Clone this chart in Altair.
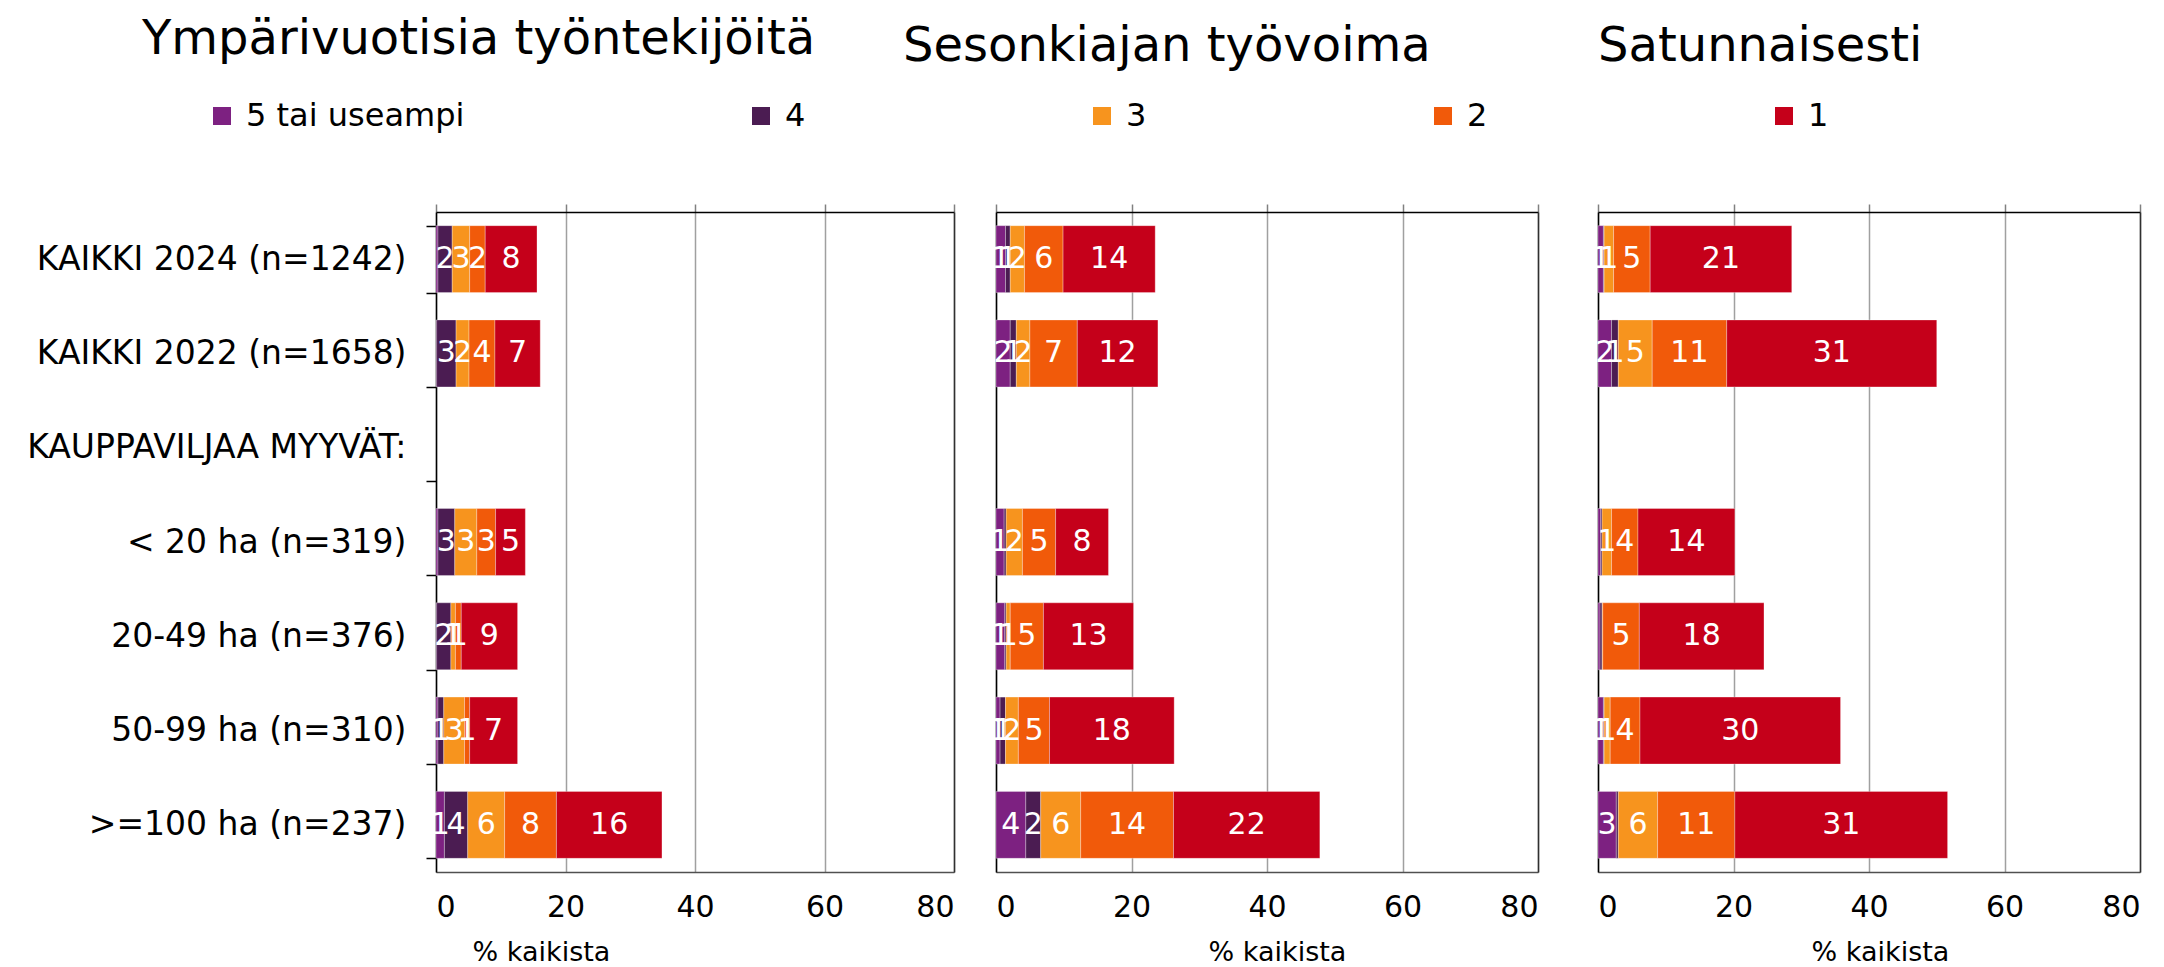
import altair as alt
import pandas as pd

categories = ["KAIKKI 2024 (n=1242)", "KAIKKI 2022 (n=1658)", "KAUPPAVILJAA MYYVÄT:",
              "< 20 ha (n=319)", "20-49 ha (n=376)", "50-99 ha (n=310)", ">=100 ha (n=237)"]
rows = ["KAIKKI 2024 (n=1242)", "KAIKKI 2022 (n=1658)", "< 20 ha (n=319)",
        "20-49 ha (n=376)", "50-99 ha (n=310)", ">=100 ha (n=237)"]
levels = ["5 tai useampi", "4", "3", "2", "1"]
colors = ["#7d2181", "#4b1c52", "#f7941e", "#f15a0a", "#c5001a"]
panel_titles = ["Ympärivuotisia työntekijöitä", "Sesonkiajan työvoima", "Satunnaisesti"]
x_ticks = [0, 20, 40, 60, 80]

# values (% kaikista) per level, in the order of `rows`
ymparivuotisia = {
    "5 tai useampi": [0.3, 0.1, 0.3, 0.1, 0.3, 1.3],
    "4": [2.2, 3.0, 2.6, 2.2, 0.9, 3.6],
    "3": [2.7, 2.0, 3.4, 0.7, 3.2, 5.7],
    "2": [2.4, 4.0, 2.9, 0.9, 0.8, 8.0],
    "1": [8.0, 7.0, 4.6, 8.7, 7.4, 16.3],
}
sesonki = {
    "5 tai useampi": [1.4, 2.1, 1.2, 1.3, 0.6, 4.4],
    "4": [0.7, 0.9, 0.3, 0.2, 0.8, 2.2],
    "3": [2.1, 2.0, 2.4, 0.6, 1.9, 5.9],
    "2": [5.7, 7.0, 4.9, 4.9, 4.6, 13.7],
    "1": [13.6, 11.9, 7.8, 13.3, 18.4, 21.6],
}
satunnaisesti = {
    "5 tai useampi": [0.8, 2.0, 0.4, 0.3, 0.8, 2.7],
    "4": [0.1, 1.0, 0.2, 0.3, 0.1, 0.3],
    "3": [1.4, 5.0, 1.4, 0.1, 0.9, 5.8],
    "2": [5.4, 11.0, 3.9, 5.4, 4.4, 11.4],
    "1": [20.9, 31.0, 14.3, 18.4, 29.6, 31.4],
}

FONT = "DejaVu Sans"


def make_df(values):
    recs = []
    for li, lev in enumerate(levels):
        for ri, cat in enumerate(rows):
            v = values[lev][ri]
            r = int(v + 0.5)
            recs.append({"category": cat, "level": lev, "order": li, "value": v,
                         "label": str(r) if r > 0 else ""})
    return pd.DataFrame(recs)


def panel(values, title, width, lead, dx, title_x, first):
    df = make_df(values)
    xscale = alt.Scale(domain=[0, 80], nice=False, zero=True, range=[lead, width])
    yscale = alt.Scale(domain=categories, paddingInner=0.29, paddingOuter=0.145)
    if first:
        yaxis = alt.Axis(title=None, labelFont=FONT, labelFontSize=33, labelColor="black",
                         labelPadding=20, tickBand="extent", ticks=True, tickSize=10,
                         tickColor="black", tickWidth=1.5, domainColor="black",
                         domainWidth=1.5, grid=False, labelLimit=600)
    else:
        yaxis = alt.Axis(title=None, labels=False, ticks=False, domainColor="black",
                         domainWidth=1.5, grid=False, minExtent=0, offset=-lead)
    legend = alt.Legend(title=None, orient="none", legendX=-230, legendY=-112,
                        direction="horizontal", columns=5, gridAlign="each",
                        columnPadding=280, symbolType="square", symbolSize=324,
                        symbolStrokeWidth=0, labelFont=FONT, labelFontSize=32,
                        labelColor="black", labelOffset=8, labelLimit=500) if first else None
    base = alt.Chart(df).transform_stack(
        stack="value", groupby=["category"],
        sort=[alt.SortField("order", order="ascending")], as_=["x0", "x1"]
    ).transform_calculate(xm="(datum.x0 + datum.x1) / 2")
    bars = base.mark_bar(stroke="white", strokeWidth=0.6, strokeOpacity=0.5).encode(
        x=alt.X("x0:Q", scale=xscale,
                axis=alt.Axis(title="% kaikista", titleFont=FONT, titleFontSize=27,
                              titleFontWeight="normal", titleColor="black", titlePadding=17,
                              titleX=title_x, values=x_ticks, labelFont=FONT,
                              labelFontSize=30, labelColor="black", labelPadding=20,
                              ticks=False, domainColor="#505050", domainWidth=1.5,
                              grid=True, gridColor="#a0a0a0", gridWidth=1.5)),
        x2="x1:Q",
        y=alt.Y("category:N", scale=yscale, sort=categories, axis=yaxis),
        color=alt.Color("level:N", scale=alt.Scale(domain=levels, range=colors),
                        legend=legend),
        order=alt.Order("order:Q"),
    )
    text = base.transform_filter("datum.label != ''").mark_text(
        font=FONT, fontSize=30, color="white", baseline="middle", align="center"
    ).encode(
        x=alt.X("xm:Q", scale=xscale,
                axis=alt.Axis(orient="top", title=None, labels=False, values=x_ticks,
                              ticks=True, tickSize=8, tickColor="#808080", tickWidth=1.5,
                              domainColor="black", domainWidth=1.5, grid=False)),
        y=alt.Y("category:N", scale=yscale, sort=categories,
                axis=alt.Axis(orient="right", title=None, labels=False, ticks=False,
                              domainColor="#303030", domainWidth=1.5, grid=False,
                              minExtent=0)),
        text="label:N",
    )
    return alt.layer(bars, text).resolve_axis(x="independent", y="independent").properties(
        width=width, height=660,
        title=alt.TitleParams(text=title, anchor="start", frame="group", dx=dx,
                              font=FONT, fontSize=48, fontWeight="normal",
                              color="black", baseline="alphabetic", offset=94),
    )


p1 = panel(ymparivuotisia, panel_titles[0], 518, 0, -294, 105, True)
p2 = panel(sesonki, panel_titles[1], 542, 0, -93, 281, False)
p3 = panel(satunnaisesti, panel_titles[2], 560, 18, 18, 300, False)

chart = alt.hconcat(p1, p2, p3, spacing=42, bounds="flush").properties(
    padding={"left": 18, "top": 8, "right": 5, "bottom": 5}
).configure_view(strokeWidth=0)

chart.save("out.html", embed_options={"renderer": "svg", "actions": False})
